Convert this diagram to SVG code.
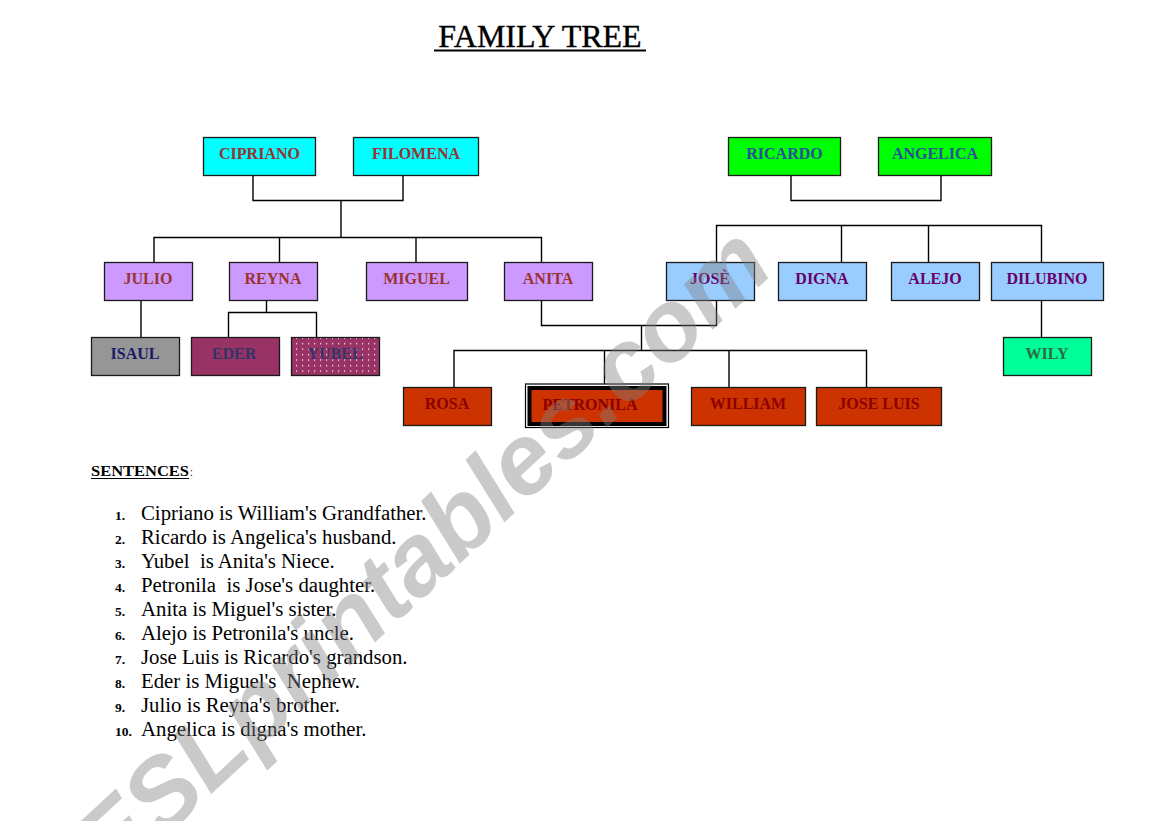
<svg xmlns="http://www.w3.org/2000/svg" width="1169" height="821" viewBox="0 0 1169 821">
<style>
.box{stroke:#1a1a1a;stroke-width:1.3}
.lbl{font-family:"Liberation Serif","Times New Roman",serif;font-weight:bold;font-size:16px;text-anchor:middle}
.conn{stroke:#000;stroke-width:1.4;fill:none}
.cyan{fill:#00ffff}.grn{fill:#00ff00}.pur{fill:#cc99ff}.blu{fill:#99ccff}.gry{fill:#969696}.mag{fill:#993366}.mint{fill:#00ff99}.red{fill:#cc3300}
.t1{fill:#993333}.t2{fill:#2a4f9a}.t3{fill:#660066}.t4{fill:#1a1a66}.t5{fill:#333366}.t6{fill:#2f6b3f}.t7{fill:#8b0000}
.sent{font-family:"Liberation Serif","Times New Roman",serif;font-size:20.8px;fill:#000;white-space:pre}
.num{font-family:"Liberation Serif","Times New Roman",serif;font-size:13.5px;font-weight:bold;fill:#000}
</style>
<defs>
<pattern id="dots" x="0" y="0" width="6" height="5.5" patternUnits="userSpaceOnUse">
<rect x="2" y="2" width="1.2" height="1.2" fill="#ffffff"/>
</pattern>
</defs>
<rect width="1169" height="821" fill="#ffffff"/>
<g id="title">
<text x="540" y="47" font-family="Liberation Serif, Times New Roman, serif" font-size="32" text-anchor="middle" fill="#000" stroke="#000" stroke-width="0.4">FAMILY TREE</text>
<line x1="434" y1="50.5" x2="646" y2="50.5" stroke="#000" stroke-width="2"/>
</g>
<g id="connectors">
<path class="conn" d="M253 175V200.5H403V175M341 200.5V237.5M154 262V237.5H541.5V262M279.5 237.5V262M416 237.5V262"/>
<path class="conn" d="M791 175V200.5H941V175"/>
<path class="conn" d="M716.5 262V225.5H1041.5V262M841.5 225.5V262M928.5 225.5V262"/>
<path class="conn" d="M141 300V337M266.5 300V312.5M228.5 337V312.5H316.5V337"/>
<path class="conn" d="M541.5 300V325.5H716.5V300M641.5 325.5V350.5M454 387V350.5H866.5V387M604.5 350.5V389M729 350.5V387"/>
<path class="conn" d="M1041.5 300V337"/>
</g>
<g id="n-cipriano"><rect class="box cyan" x="203.5" y="137.5" width="112" height="38"/><text class="lbl t1" x="259.5" y="158.5">CIPRIANO</text></g>
<g id="n-filomena"><rect class="box cyan" x="353.5" y="137.5" width="125" height="38"/><text class="lbl t1" x="416" y="158.5">FILOMENA</text></g>
<g id="n-ricardo"><rect class="box grn" x="728.5" y="137.5" width="112" height="38"/><text class="lbl t2" x="784.5" y="158.5">RICARDO</text></g>
<g id="n-angelica"><rect class="box grn" x="878.5" y="137.5" width="113" height="38"/><text class="lbl t2" x="935" y="158.5">ANGELICA</text></g>
<g id="n-julio"><rect class="box pur" x="104.5" y="262.5" width="88" height="38"/><text class="lbl t1" x="148" y="283.5">JULIO</text></g>
<g id="n-reyna"><rect class="box pur" x="229.5" y="262.5" width="88" height="38"/><text class="lbl t1" x="273" y="283.5">REYNA</text></g>
<g id="n-miguel"><rect class="box pur" x="366.5" y="262.5" width="101" height="38"/><text class="lbl t1" x="416.5" y="283.5">MIGUEL</text></g>
<g id="n-anita"><rect class="box pur" x="504.5" y="262.5" width="88" height="38"/><text class="lbl t1" x="548" y="283.5">ANITA</text></g>
<g id="n-jose"><rect class="box blu" x="666.5" y="262.5" width="88" height="38"/><text class="lbl t3" x="710" y="283.5">JOSÈ</text></g>
<g id="n-digna"><rect class="box blu" x="778.5" y="262.5" width="88" height="38"/><text class="lbl t3" x="822" y="283.5">DIGNA</text></g>
<g id="n-alejo"><rect class="box blu" x="891.5" y="262.5" width="88" height="38"/><text class="lbl t3" x="935" y="283.5">ALEJO</text></g>
<g id="n-dilubino"><rect class="box blu" x="991.5" y="262.5" width="112" height="38"/><text class="lbl t3" x="1047" y="283.5">DILUBINO</text></g>
<g id="n-isaul"><rect class="box gry" x="91.5" y="337.5" width="88" height="38"/><text class="lbl t4" x="135" y="358.5">ISAUL</text></g>
<g id="n-eder"><rect class="box mag" x="191.5" y="337.5" width="88" height="38"/><text class="lbl t5" x="234" y="358.5">EDER</text></g>
<g id="n-yubel"><rect class="box mag" x="291.5" y="337.5" width="88" height="38"/><rect x="292" y="338" width="87" height="37" fill="url(#dots)"/><text class="lbl t5" x="335" y="358.5">YUBEL</text></g>
<g id="n-wily"><rect class="box mint" x="1003.5" y="337.5" width="88" height="38"/><text class="lbl t6" x="1047" y="358.5">WILY</text></g>
<g id="n-rosa"><rect class="box red" x="403.5" y="387.5" width="88" height="38"/><text class="lbl t7" x="447" y="408.5">ROSA</text></g>
<g id="n-petronila"><rect x="525.5" y="384" width="143" height="43.5" fill="#ffffff" stroke="#000" stroke-width="1.2"/><rect class="red" x="529.5" y="388" width="135" height="36" stroke="#000" stroke-width="4"/><text class="lbl t7" x="590" y="410">PETRONILA</text></g>
<g id="n-william"><rect class="box red" x="691.5" y="387.5" width="114" height="38"/><text class="lbl t7" x="748" y="408.5">WILLIAM</text></g>
<g id="n-joseluis"><rect class="box red" x="816.5" y="387.5" width="125" height="38"/><text class="lbl t7" x="879" y="408.5">JOSE LUIS</text></g>
<g id="sentences">
<text x="91" y="476" font-family="Liberation Serif, Times New Roman, serif" font-size="15" font-weight="bold" fill="#000" textLength="98" lengthAdjust="spacingAndGlyphs">SENTENCES</text>
<line x1="91" y1="478.5" x2="189" y2="478.5" stroke="#000" stroke-width="1.2"/>
<text x="189.5" y="476" font-family="Liberation Serif, Times New Roman, serif" font-size="13" fill="#555">:</text>
<text class="num" x="115" y="520">1.</text><text class="sent" x="141" y="520">Cipriano is William's Grandfather.</text>
<text class="num" x="115" y="544">2.</text><text class="sent" x="141" y="544">Ricardo is Angelica's husband.</text>
<text class="num" x="115" y="568">3.</text><text class="sent" x="141" y="568">Yubel  is Anita's Niece.</text>
<text class="num" x="115" y="592">4.</text><text class="sent" x="141" y="592">Petronila  is Jose's daughter.</text>
<text class="num" x="115" y="616">5.</text><text class="sent" x="141" y="616">Anita is Miguel's sister.</text>
<text class="num" x="115" y="640">6.</text><text class="sent" x="141" y="640">Alejo is Petronila's uncle.</text>
<text class="num" x="115" y="664">7.</text><text class="sent" x="141" y="664">Jose Luis is Ricardo's grandson.</text>
<text class="num" x="115" y="688">8.</text><text class="sent" x="141" y="688">Eder is Miguel's  Nephew.</text>
<text class="num" x="115" y="712">9.</text><text class="sent" x="141" y="712">Julio is Reyna's brother.</text>
<text class="num" x="115" y="736">10.</text><text class="sent" x="141" y="736">Angelica is digna's mother.</text>
</g>
<g id="watermark">
<text transform="translate(112,886) rotate(-42.8)" font-family="Liberation Sans, Arial, sans-serif" font-weight="bold" font-style="italic" font-size="100" fill="#808080" fill-opacity="0.42">ESLprintables.com</text>
</g>
</svg>
